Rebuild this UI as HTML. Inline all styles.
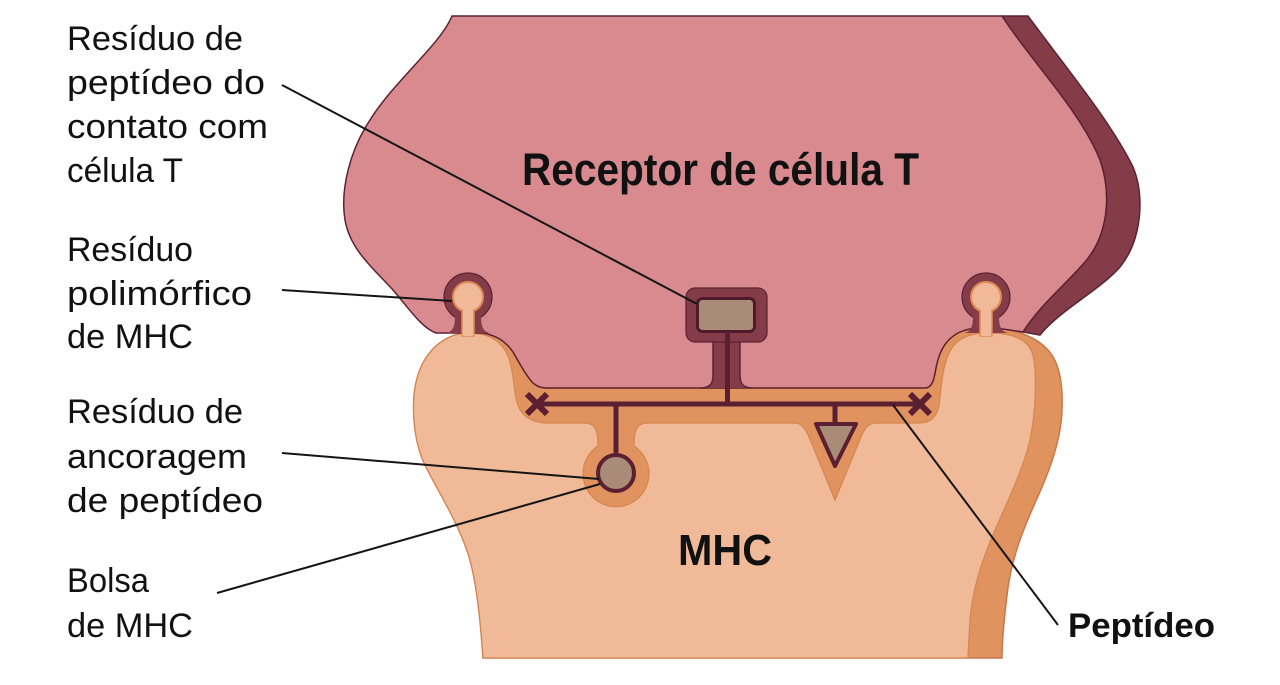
<!DOCTYPE html>
<html><head><meta charset="utf-8">
<style>
html,body{margin:0;padding:0;background:#fff;}
svg{display:block;}
text{font-family:"Liberation Sans",Arial,sans-serif;fill:#111;}
</style></head><body>
<svg width="1280" height="685" viewBox="0 0 1280 685" xmlns="http://www.w3.org/2000/svg">
<rect width="1280" height="685" fill="#fff"/>

<!-- MHC outer (orange band) -->
<path d="M483,658 C481,630 478,590 470,560 C460,525 440,495 425,465 C413,440 410,400 418,375 C426,350 445,334 467,333 L483,333 C498,336 506,342 513,352 C520,364 525,374 532,382 C536,386 540,388 548,388 L925,388 C932,388 934,380 936,368 C939,352 945,340 958,333 C966,329 974,328 980,328 L996,328 C1015,330 1035,336 1048,350 C1060,363 1063,385 1062,410 C1061,440 1050,470 1035,503 C1022,532 1011,560 1007,595 C1004,620 1002,640 1002,658 Z" fill="#e1935f" stroke="#c7774a" stroke-width="1.5"/>

<!-- MHC light interior -->
<path d="M483,658 C481,630 478,590 470,560 C460,525 440,495 425,465 C413,440 410,400 418,375 C426,350 445,334 467,333 C485,333 497,338 505,350 C512,362 513,378 515,392 C517,410 524,421 545,423 L585,423 C596,423 598,432 598,446 A33 33 0 1 0 634,446 C634,432 636,423 647,423 L795,423 C802,423 806,430 809,437 L835,500 L861,437 C864,430 868,423 875,423 L918,423 C935,423 939,412 940,398 C942,375 945,355 955,344 C965,334 978,333 990,333 C1010,333 1028,338 1033,355 C1037,375 1036,410 1030,440 C1023,470 1008,500 995,530 C982,560 972,590 970,620 C969,640 968,650 968,658 Z" fill="#f0b997" stroke="#d5854f" stroke-width="1.2"/>
<line x1="483" y1="658" x2="1002" y2="658" stroke="#f0b997" stroke-width="0"/>

<!-- TCR maroon band -->
<path d="M1002,16 L1028,16 C1060,60 1110,120 1133,167 C1145,195 1142,240 1120,267 C1100,290 1060,310 1040,335 L1023,332 C1040,305 1065,285 1085,262 C1108,235 1112,195 1100,160 C1080,110 1030,60 1002,16 Z" fill="#843c48" stroke="#5c2232" stroke-width="1.5"/>

<!-- TCR pink -->
<path d="M452,16 L1002,16 C1030,60 1080,110 1100,160 C1112,195 1108,235 1085,262 C1065,285 1040,305 1023,332 L996,328 L980,328 C974,328 966,329 958,333 C945,340 939,352 936,368 C934,380 932,388 925,388 L548,388 C540,388 536,386 532,382 C525,374 520,364 513,352 C506,342 498,336 483,333 L436,333 C422,328 410,310 393,290 C375,270 350,250 345,220 C340,190 350,150 370,120 C395,80 440,45 452,16 Z" fill="#d88a8f" stroke="#5c2232" stroke-width="1.5"/>

<!-- box stem + box -->
<path d="M700,388 C710,388 713,384 713,375 L713,340 L740,340 L740,375 C740,384 743,388 753,388 Z" fill="#843c48"/>
<path d="M700,388 C710,388 713,384 713,375 L713,342 M740,342 L740,375 C740,384 743,388 753,388" fill="none" stroke="#5c2232" stroke-width="1.5"/>
<rect x="686" y="288" width="81" height="54" rx="9" fill="#843c48" stroke="#5c2232" stroke-width="1.2"/>
<rect x="697.5" y="298.5" width="57" height="33" rx="5" fill="#a98b78" stroke="#4f1a2a" stroke-width="3"/>

<!-- left knob -->
<circle cx="468" cy="297" r="24" fill="#843c48" stroke="#5c2232" stroke-width="1.2"/>
<path d="M444,333 C452,333 455,328 455,316 L481,316 C481,328 484,333 492,333 Z" fill="#843c48"/>
<rect x="462" y="305" width="12" height="31" fill="#f0b997" stroke="#e08a55" stroke-width="1.5"/>
<circle cx="468" cy="297" r="15" fill="#f0b997" stroke="#e08a55" stroke-width="2"/>
<rect x="463" y="308" width="10" height="28" fill="#f0b997"/>

<!-- right knob -->
<circle cx="986" cy="297" r="24" fill="#843c48" stroke="#5c2232" stroke-width="1.2"/>
<path d="M962,333 C970,333 973,328 973,316 L999,316 C999,328 1002,333 1010,333 Z" fill="#843c48"/>
<rect x="980" y="305" width="12" height="31" fill="#f0b997" stroke="#e08a55" stroke-width="1.5"/>
<circle cx="986" cy="297" r="15" fill="#f0b997" stroke="#e08a55" stroke-width="2"/>
<rect x="981" y="308" width="10" height="28" fill="#f0b997"/>

<!-- peptide -->
<g stroke="#5a1f30" stroke-linecap="butt">
<line x1="537" y1="404" x2="920" y2="404" stroke-width="5"/>
<line x1="616" y1="404" x2="616" y2="458" stroke-width="5"/>
<line x1="727.5" y1="332" x2="727.5" y2="404" stroke-width="5"/>
<line x1="835" y1="404" x2="835" y2="423" stroke-width="5"/>
<line x1="527" y1="394" x2="547" y2="414" stroke-width="6"/>
<line x1="547" y1="394" x2="527" y2="414" stroke-width="6"/>
<line x1="910" y1="394" x2="930" y2="414" stroke-width="6"/>
<line x1="930" y1="394" x2="910" y2="414" stroke-width="6"/>
</g>
<circle cx="616" cy="473" r="18" fill="#a98b78" stroke="#5a1f30" stroke-width="4"/>
<path d="M816,424 L856,424 L835,466 Z" fill="#a98b78" stroke="#5a1f30" stroke-width="4" stroke-linejoin="round"/>

<!-- leader lines -->
<g stroke="#151515" stroke-width="2" fill="none">
<line x1="282" y1="85" x2="697" y2="304"/>
<line x1="282" y1="290" x2="452" y2="301"/>
<line x1="282" y1="453" x2="599" y2="479"/>
<line x1="217" y1="593" x2="600" y2="484"/>
<line x1="893" y1="405" x2="1058" y2="625"/>
</g>

<!-- labels -->
<g font-size="34">
<text x="67" y="50" textLength="176" lengthAdjust="spacingAndGlyphs">Resíduo de</text>
<text x="67" y="94" textLength="198" lengthAdjust="spacingAndGlyphs">peptídeo do</text>
<text x="67" y="138" textLength="201" lengthAdjust="spacingAndGlyphs">contato com</text>
<text x="67" y="182" textLength="116" lengthAdjust="spacingAndGlyphs">célula T</text>
<text x="67" y="261" textLength="126" lengthAdjust="spacingAndGlyphs">Resíduo</text>
<text x="67" y="305" textLength="185" lengthAdjust="spacingAndGlyphs">polimórfico</text>
<text x="67" y="348" textLength="126" lengthAdjust="spacingAndGlyphs">de MHC</text>
<text x="67" y="423" textLength="176" lengthAdjust="spacingAndGlyphs">Resíduo de</text>
<text x="67" y="468" textLength="180" lengthAdjust="spacingAndGlyphs">ancoragem</text>
<text x="67" y="512" textLength="196" lengthAdjust="spacingAndGlyphs">de peptídeo</text>
<text x="67" y="592" textLength="82" lengthAdjust="spacingAndGlyphs">Bolsa</text>
<text x="67" y="637" textLength="126" lengthAdjust="spacingAndGlyphs">de MHC</text>
</g>
<text x="522" y="185" font-size="45" font-weight="bold" textLength="397" lengthAdjust="spacingAndGlyphs">Receptor de célula T</text>
<text x="678" y="565" font-size="44" font-weight="bold" textLength="94" lengthAdjust="spacingAndGlyphs">MHC</text>
<text x="1068" y="637" font-size="34" font-weight="bold" textLength="147" lengthAdjust="spacingAndGlyphs">Peptídeo</text>
</svg>
</body></html>
